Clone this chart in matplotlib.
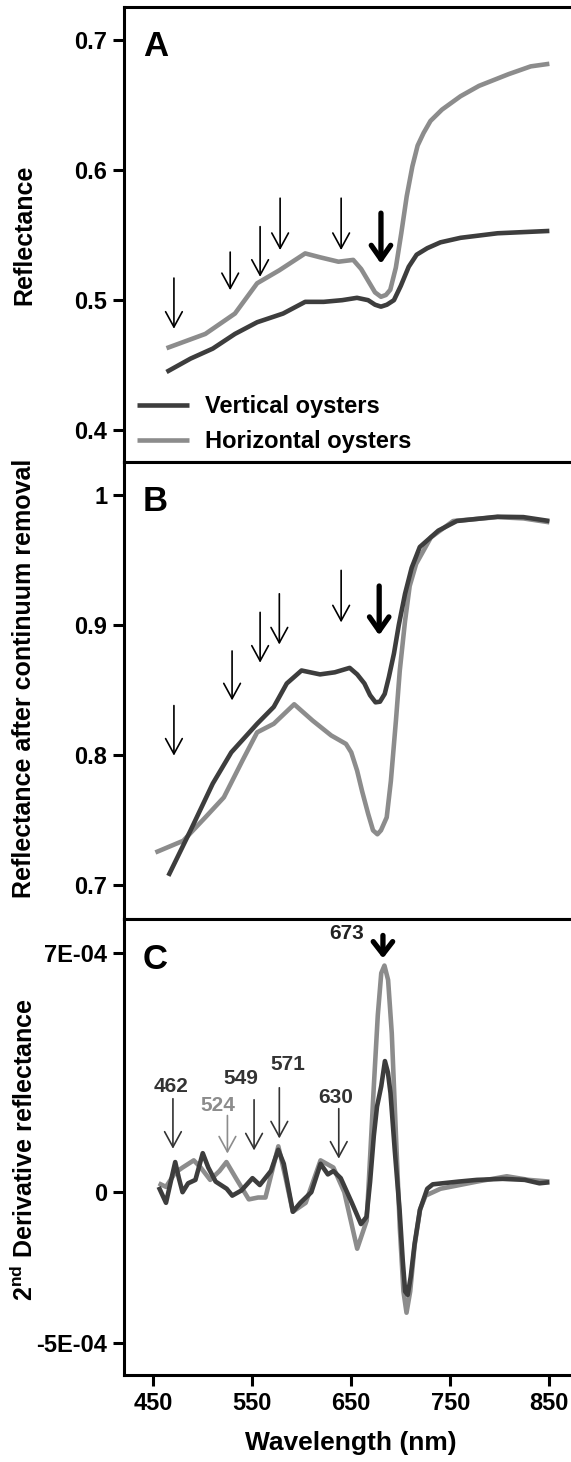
import matplotlib
matplotlib.use('Agg')
import matplotlib.pyplot as plt

plt.rcParams['font.family'] = ['Liberation Sans', 'DejaVu Sans']
plt.rcParams['font.weight'] = 'bold'
plt.rcParams['mathtext.fontset'] = 'custom'
plt.rcParams['mathtext.rm'] = 'Liberation Sans:bold'
plt.rcParams['mathtext.bf'] = 'Liberation Sans:bold'
plt.rcParams['lines.solid_joinstyle'] = 'round'
plt.rcParams['lines.solid_capstyle'] = 'butt'

# -- data -- #

# A : reflectance
a_vert_wl = [463.5, 487.8, 510.2, 532.6, 555, 581.2, 603.5, 622.2, 640.9, 655.8, 667, 674, 680, 686,
             693.1, 700, 708, 716, 726.7, 740, 760.3, 797.7, 850]
a_vert = [0.4447, 0.455, 0.4627, 0.474, 0.483, 0.4897, 0.4987, 0.4987, 0.5, 0.5018, 0.5, 0.4965, 0.495,
          0.4965, 0.5, 0.511, 0.5257, 0.535, 0.54, 0.5445, 0.548, 0.5515, 0.5533]
a_hori_wl = [463.5, 502.7, 532.6, 555, 577.4, 603.5, 618.5, 637.1, 652, 660, 667, 674, 680, 685, 689.4,
             695, 700.5, 706, 711.7, 717, 723, 730, 741.6, 760.3, 779, 808.8, 831.2, 850]
a_hori = [0.463, 0.474, 0.4897, 0.513, 0.523, 0.536, 0.533, 0.5296, 0.531, 0.524, 0.515, 0.506, 0.5026,
          0.504, 0.508, 0.525, 0.5515, 0.58, 0.603, 0.619, 0.6287, 0.638, 0.6467, 0.657, 0.665, 0.674,
          0.68, 0.682]

# B : reflectance after continuum removal
b_vert_wl = [465.4, 487.8, 510.2, 528.9, 555, 571.8, 584.9, 599.8, 618.5, 633.4, 648.4, 656, 663.3,
             669, 674.5, 679, 683.8, 688, 693.1, 698, 704.3, 711, 719.2, 737.9, 756.6, 797.7, 823.8, 850]
b_vert = [0.707, 0.742, 0.778, 0.802, 0.824, 0.837, 0.855, 0.865, 0.862, 0.8636, 0.867, 0.862, 0.855,
          0.846, 0.8405, 0.841, 0.847, 0.86, 0.878, 0.9, 0.924, 0.944, 0.96, 0.9726, 0.980, 0.9833,
          0.983, 0.980]
b_hori_wl = [452.3, 480.4, 502.7, 521.4, 540.1, 555, 571.8, 592.4, 611.1, 629.8, 644.7, 650, 655.9,
             661, 667.1, 672, 676.4, 680, 685.8, 690, 695.1, 699, 704.3, 709, 715.5, 730.4, 752.9,
             797.7, 823.8, 850]
b_hori = [0.725, 0.734, 0.752, 0.7674, 0.7956, 0.8174, 0.824, 0.839, 0.8264, 0.815, 0.8085, 0.802, 0.788,
          0.772, 0.7546, 0.742, 0.739, 0.742, 0.752, 0.78, 0.8264, 0.865, 0.903, 0.93, 0.947, 0.9674,
          0.980, 0.983, 0.982, 0.979]

# C : 2nd derivative (x 1E-04)
c_vert_wl = [455.6, 463, 468.6, 472.3, 476, 479.7, 485.3, 492.7, 500.1, 505.7, 513.1, 524.3, 529.9,
             539.1, 550.3, 557.7, 568.9, 576.3, 581.9, 591.1, 598.6, 609.7, 619, 626.4, 632, 639.4,
             650.6, 659.8, 665.4, 669, 672.8, 676, 680.3, 684, 687, 689.6, 694, 698.8, 702, 704.4,
             707, 710, 714, 719.3, 726.7, 732.3, 758.3, 776.8, 802.8, 825.1, 840, 850]
c_vert = [0.155, -0.31, 0.41, 0.88, 0.41, 0.0, 0.26, 0.36, 1.14, 0.72, 0.31, 0.10, -0.10,
          0.05, 0.41, 0.21, 0.62, 1.24, 0.83, -0.57, -0.31, 0.0, 0.83, 0.52, 0.62, 0.41,
          -0.31, -0.93, -0.72, 0.3, 1.65, 2.5, 3.10, 3.83, 3.5, 2.90, 1.2, -0.52, -2.0, -2.90,
          -3.0, -2.48, -1.5, -0.52, 0.10, 0.23, 0.31, 0.36, 0.39, 0.36, 0.26, 0.29]
c_hori_wl = [455.6, 463, 472.3, 479.7, 491, 498, 507.6, 517, 524, 533.6, 546.6, 556, 563.4, 576.4,
             583.8, 591, 604, 619, 632, 643, 656, 665.6, 669, 672.8, 676.8, 680.3, 683.5, 687.2, 690.9,
             695.3, 699, 702.7, 705.8, 709.5, 714, 719.5, 725, 740, 777, 807, 829, 850]
c_hori = [0.26, 0.155, 0.57, 0.72, 0.93, 0.72, 0.36, 0.62, 0.88, 0.41, -0.21, -0.155, -0.155, 1.34,
          0.41, -0.57, -0.31, 0.93, 0.72, 0.0, -1.65, -0.83, 1.0, 3.1, 5.17, 6.4, 6.62, 6.2, 4.65,
          1.55, -1.03, -2.9, -3.52, -2.9, -1.55, -0.5, -0.10, 0.10, 0.31, 0.465, 0.36, 0.31]
c_vert = [v * 1e-4 for v in c_vert]
c_hori = [v * 1e-4 for v in c_hori]

# arrows: wavelength, tail, head
a_arrows = [(471, 0.517, 0.478), (527.8, 0.537, 0.5077), (558, 0.5566, 0.518),
            (578.2, 0.5785, 0.5386), (639.8, 0.5785, 0.5386)]
a_bold = (680, 0.567, 0.528)
b_arrows = [(471, 0.838, 0.7995), (529.7, 0.880, 0.842), (558, 0.9097, 0.871),
            (577.4, 0.924, 0.885), (639.8, 0.942, 0.902)]
b_bold = (678.2, 0.930, 0.892)
# C peaks: label, label x, label y, arrow x, tail, head, colour
c_peaks = [('462', 467.7, 3.09, 470, 2.73, 1.27, '#333333'),
           ('524', 515.4, 2.54, 525, 2.24, 1.13, '#8c8c8c'),
           ('549', 538.2, 3.31, 551.9, 2.70, 1.22, '#333333'),
           ('571', 586, 3.72, 577.4, 3.05, 1.57, '#333333'),
           ('630', 634, 2.78, 637.4, 2.44, 0.98, '#333333')]
c_bold = ('673', 645.7, 7.55, 682, 7.5, 6.83)

# ------------------------------ #

dark = '#3d3d3d'
gray = '#8c8c8c'
lw = 3.3

fig = plt.figure(figsize=(5.71, 14.62), dpi=100)
left = 124 / 571
width = 1 - left + 0.01
ax_a = fig.add_axes([left, 0.684, width, 0.3112])
ax_b = fig.add_axes([left, 0.3714, width, 0.3126])
ax_c = fig.add_axes([left, 0.0595, width, 0.3119])

thin = dict(arrowstyle='->,head_length=0.55,head_width=0.3', color='black', lw=1.2,
            shrinkA=0, shrinkB=0, mutation_scale=20)
bold = dict(arrowstyle='->,head_length=0.5,head_width=0.35', color='black', lw=3.8,
            shrinkA=0, shrinkB=0, mutation_scale=20)

for ax in [ax_a, ax_b, ax_c]:
    ax.set_xlim(420.6, 877.6)
    for s in ['left', 'top', 'bottom']:
        ax.spines[s].set_linewidth(2.2)
    ax.spines['right'].set_visible(False)
    ax.tick_params(axis='y', direction='out', length=8, width=2.2, labelsize=17, pad=4)
    ax.tick_params(axis='x', direction='out', length=8, width=2.2, labelsize=17, pad=4)

# A
ax_a.plot(a_vert_wl, a_vert, color=dark, lw=lw, label='Vertical oysters')
ax_a.plot(a_hori_wl, a_hori, color=gray, lw=lw, label='Horizontal oysters')
ax_a.set_ylim(0.3754, 0.7257)
ax_a.set_yticks([0.4, 0.5, 0.6, 0.7])
ax_a.set_yticklabels(['0.4', '0.5', '0.6', '0.7'])
ax_a.set_xticks([])
for x, y0, y1 in a_arrows:
    ax_a.annotate('', xy=(x, y1), xytext=(x, y0), arrowprops=thin)
ax_a.annotate('', xy=(a_bold[0], a_bold[2]), xytext=(a_bold[0], a_bold[1]), arrowprops=bold)
ax_a.legend(loc='center left', bbox_to_anchor=(0.028, 0.083), frameon=False, fontsize=17,
            handlelength=2.2, handletextpad=0.7, labelspacing=0.5, borderpad=0, borderaxespad=0)
ax_a.text(0.042, 0.95, 'A', transform=ax_a.transAxes, fontsize=25, fontweight='bold', va='top')

# B
ax_b.plot(b_hori_wl, b_hori, color=gray, lw=lw)
ax_b.plot(b_vert_wl, b_vert, color=dark, lw=lw)
ax_b.set_ylim(0.6738, 1.0254)
ax_b.set_yticks([0.7, 0.8, 0.9, 1.0])
ax_b.set_yticklabels(['0.7', '0.8', '0.9', '1'])
ax_b.set_xticks([])
for x, y0, y1 in b_arrows:
    ax_b.annotate('', xy=(x, y1), xytext=(x, y0), arrowprops=thin)
ax_b.annotate('', xy=(b_bold[0], b_bold[2]), xytext=(b_bold[0], b_bold[1]), arrowprops=bold)
ax_b.text(0.042, 0.95, 'B', transform=ax_b.transAxes, fontsize=25, fontweight='bold', va='top')

# C
ax_c.plot(c_hori_wl, c_hori, color=gray, lw=lw)
ax_c.plot(c_vert_wl, c_vert, color=dark, lw=lw)
ax_c.set_ylim(-5.34e-4, 7.98e-4)
ax_c.set_yticks([-4.4e-4, 0, 7e-4])
ax_c.set_yticklabels(['-5E-04', '0', '7E-04'])
ax_c.set_xticks([450, 550, 650, 750, 850])
ax_c.set_xticklabels(['450', '550', '650', '750', '850'])
for lab, lx, ly, x, y0, y1, col in c_peaks:
    ax_c.text(lx, ly * 1e-4, lab, fontsize=15, fontweight='bold', color=col, ha='center', va='center')
    st = dict(thin)
    st['color'] = col
    ax_c.annotate('', xy=(x, y1 * 1e-4), xytext=(x, y0 * 1e-4), arrowprops=st)
ax_c.text(c_bold[1], c_bold[2] * 1e-4, c_bold[0], fontsize=15, fontweight='bold', color='#222222',
          ha='center', va='center')
st = dict(bold)
st['arrowstyle'] = '->,head_length=0.45,head_width=0.35'
ax_c.annotate('', xy=(c_bold[3], c_bold[5] * 1e-4), xytext=(c_bold[3], c_bold[4] * 1e-4), arrowprops=st)
ax_c.text(0.042, 0.947, 'C', transform=ax_c.transAxes, fontsize=25, fontweight='bold', va='top')
ax_c.set_xlabel('Wavelength (nm)', fontsize=19, fontweight='bold', labelpad=12)

# y labels
fig.text(24 / 571, 1 - 235 / 1462, 'Reflectance', rotation=90, fontsize=18, fontweight='bold',
         ha='center', va='center')
fig.text(24 / 571, 1 - 678 / 1462, 'Reflectance after continuum removal', rotation=90, fontsize=18,
         fontweight='bold', ha='center', va='center')
fig.text(24 / 571, 1 - 1150 / 1462, r'2$^{\rm nd}$ Derivative reflectance', rotation=90, fontsize=18,
         fontweight='bold', ha='center', va='center')

fig.savefig('out.png', dpi=100)
